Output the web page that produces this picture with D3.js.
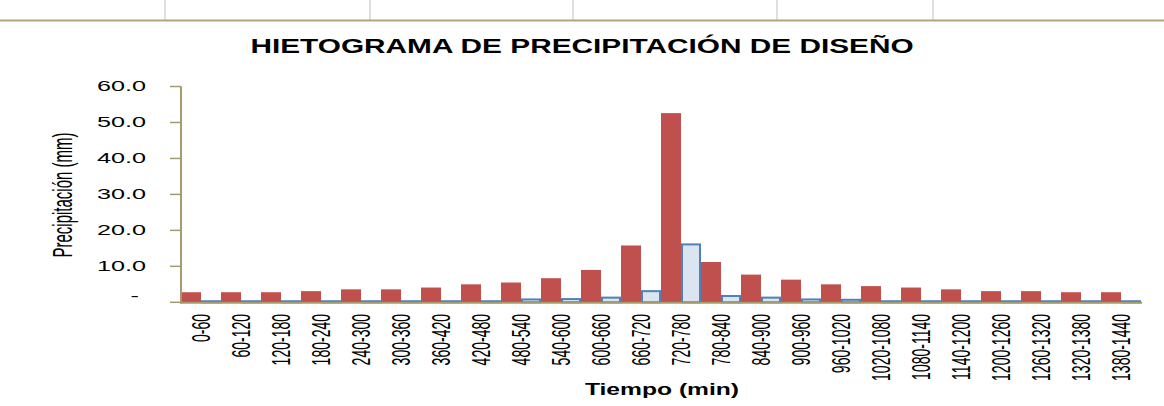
<!DOCTYPE html>
<html>
<head>
<meta charset="utf-8">
<script src="https://cdn.jsdelivr.net/npm/d3@7"></script>
<style>
  body { margin: 0; background: #fff; }
  text { font-family: "Liberation Sans", Arial, sans-serif; fill: #000; }
</style>
</head>
<body>
<div class="container-chart"></div>
<script>

var categorias = ["0-60", "60-120", "120-180", "180-240", "240-300", "300-360", "360-420", "420-480",
    "480-540", "540-600", "600-660", "660-720", "720-780", "780-840", "840-900", "900-960",
    "960-1020", "1020-1080", "1080-1140", "1140-1200", "1200-1260", "1260-1320", "1320-1380", "1380-1440"];

// precipitacion de diseño (bloques alternos)
var precipitacion = [2.8, 2.8, 2.8, 3.1, 3.6, 3.6, 4.1, 5.0, 5.5, 6.7, 9.0, 15.8,
    52.6, 11.2, 7.7, 6.3, 5.0, 4.5, 4.1, 3.6, 3.1, 3.1, 2.8, 2.8];

// segunda serie (barras claras)
var serie2 = [0.3, 0.3, 0.3, 0.3, 0.3, 0.3, 0.3, 0.3, 0.8, 0.9, 1.3, 3.1,
    16.1, 1.75, 1.3, 0.8, 0.7, 0.3, 0.3, 0.3, 0.3, 0.3, 0.3, 0.3];

var yTicks = [0, 10, 20, 30, 40, 50, 60];
var gridTop = [165, 370, 573, 777, 933];

var width = 1164;
var height = 406;
var margin = { left: 181, right: 1141, top: 86.5, bottom: 302.3 };

var svg = d3.select(".container-chart")
    .append("svg")
    .attr("width", width)
    .attr("height", height);

// restos de la hoja de calculo arriba
svg.selectAll(".vline")
    .data(gridTop)
    .enter()
    .append("line")
    .attr("x1", function (d) { return d; })
    .attr("x2", function (d) { return d; })
    .attr("y1", 0)
    .attr("y2", 20)
    .attr("stroke", "#d4d4d4")
    .attr("stroke-width", 1.5);

svg.append("line")
    .attr("x1", 0).attr("x2", width)
    .attr("y1", 20.5).attr("y2", 20.5)
    .attr("stroke", "#aea57a")
    .attr("stroke-width", 2);

var x = d3.scaleBand()
    .domain(categorias)
    .range([margin.left, margin.right])
    .padding(0);

var y = d3.scaleLinear()
    .domain([0, 60])
    .range([margin.bottom, margin.top]);

// texto estirado en horizontal como en la imagen
function stretch(sel, px, py, sx, rot) {
    sel.attr("x", 0).attr("y", 0)
        .attr("transform", "translate(" + px + "," + py + ") scale(" + sx + ",1)" + (rot ? " rotate(" + rot + ")" : ""));
    return sel;
}

var half = x.bandwidth() / 2;

svg.selectAll(".rojo")
    .data(precipitacion)
    .enter()
    .append("rect")
    .attr("x", function (d, i) { return x(categorias[i]); })
    .attr("y", function (d) { return y(d); })
    .attr("width", half)
    .attr("height", function (d) { return y(0) - y(d); })
    .attr("fill", "#c0504d");

svg.selectAll(".azul")
    .data(serie2)
    .enter()
    .append("rect")
    .attr("x", function (d, i) { return x(categorias[i]) + half + 1; })
    .attr("y", function (d) { return y(d); })
    .attr("width", half - 2)
    .attr("height", function (d) { return y(0) - y(d); })
    .attr("fill", "#dbe5f1")
    .attr("stroke", "#4f81bd")
    .attr("stroke-width", 2);

// ejes
var axisColor = "#a39b6b";

svg.append("line")
    .attr("x1", margin.left).attr("x2", margin.right + 1)
    .attr("y1", y(0) + 0.5).attr("y2", y(0) + 0.5)
    .attr("stroke", axisColor).attr("stroke-width", 2);

svg.append("line")
    .attr("x1", margin.left).attr("x2", margin.left)
    .attr("y1", y(60)).attr("y2", y(0) + 1.5)
    .attr("stroke", axisColor).attr("stroke-width", 2);

svg.selectAll(".ytick")
    .data(yTicks)
    .enter()
    .append("line")
    .attr("x1", margin.left - 11).attr("x2", margin.left)
    .attr("y1", function (d) { return y(d); })
    .attr("y2", function (d) { return y(d); })
    .attr("stroke", axisColor).attr("stroke-width", 1.5);

svg.selectAll(".ylabel")
    .data(yTicks)
    .enter()
    .append("text")
    .attr("font-size", 14)
    .attr("fill", "#222")
    .attr("text-anchor", "end")
    .attr("dominant-baseline", "central")
    .text(function (d) { return d === 0 ? "-" : d3.format(".1f")(d); })
    .each(function (d) {
        var px = d === 0 ? 139 : 146;
        var py = d === 0 ? y(d) - 6 : y(d);
        stretch(d3.select(this), px, py, 1.8);
    });

svg.selectAll(".xlabel")
    .data(categorias)
    .enter()
    .append("text")
    .attr("font-size", 14)
    .attr("fill", "#111")
    .attr("text-anchor", "end")
    .attr("dominant-baseline", "central")
    .text(function (d) { return d; })
    .each(function (d) {
        stretch(d3.select(this), x(d) + x.bandwidth() / 2, 314, 1.9, -90);
    });

// titulos
stretch(svg.append("text")
    .attr("font-size", 21)
    .attr("font-weight", "bold")
    .attr("text-anchor", "middle")
    .text("HIETOGRAMA DE PRECIPITACIÓN DE DISEÑO"), 582, 52.7, 1.42);

stretch(svg.append("text")
    .attr("font-size", 17)
    .attr("font-weight", "bold")
    .attr("text-anchor", "middle")
    .text("Tiempo (min)"), 662, 394.5, 1.45);

stretch(svg.append("text")
    .attr("font-size", 15)
    .attr("fill", "#111")
    .attr("text-anchor", "middle")
    .attr("dominant-baseline", "central")
    .text("Precipitación (mm)"), 63, 195, 1.8, -90);

</script>
</body>
</html>
